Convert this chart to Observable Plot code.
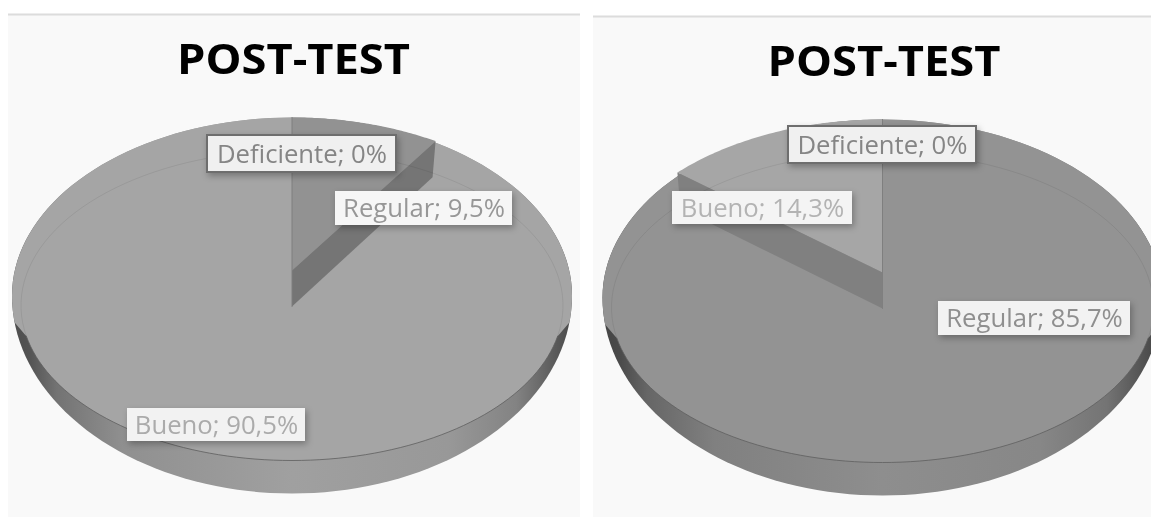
<!DOCTYPE html>
<html>
<head>
<meta charset="utf-8">
<script src="https://cdn.jsdelivr.net/npm/d3@7"></script>
<script src="https://cdn.jsdelivr.net/npm/@observablehq/plot@0.6"></script>
<style>
  html, body { margin: 0; padding: 0; background: #fff; }
  svg { display: block; }
  .box rect { filter: drop-shadow(2px 3px 3px rgba(0,0,0,.28)); }
  .all { filter: blur(.45px); }
</style>
</head>
<body>
<div id="chart"></div>
<script>
const categories = ["Deficiente", "Regular", "Bueno"];
const leftValues = [0, 9.5, 90.5];
const rightValues = [0, 85.7, 14.3];
const chartTitle = "POST-TEST";

// Layout of each panel (pixels of the shared x/y scales)
const panels = [
  { values: leftValues, x0: 8, x1: 580, line: 14, cx: 291.5, dy: 0, rim: "rimL",
    colors: { Regular: "#929292", Bueno: "#a5a5a5" }, wall: "#757575",
    boxes: {
      Deficiente: { x1: 207, x2: 396, y1: 135, y2: 172, border: "#6e6e6e", fill: "#f0f0f0", text: "#858585" },
      Regular: { x1: 335, x2: 512, y1: 191, y2: 225, border: "none", fill: "#f6f6f6", text: "#979797" },
      Bueno: { x1: 127, x2: 305, y1: 408, y2: 441, border: "none", fill: "#f2f2f2", text: "#ababab" }
    } },
  { values: rightValues, x0: 593, x1: 1151, line: 16, cx: 882, dy: 2, rim: "rimR",
    colors: { Regular: "#939393", Bueno: "#a6a6a6" }, wall: "#808080",
    boxes: {
      Deficiente: { x1: 788, x2: 976, y1: 126, y2: 163, border: "#6e6e6e", fill: "#f0f0f0", text: "#858585" },
      Regular: { x1: 938, x2: 1130, y1: 301, y2: 335, border: "none", fill: "#f2f2f2", text: "#8f8f8f" },
      Bueno: { x1: 672, x2: 852, y1: 191, y2: 224, border: "none", fill: "#f4f4f4", text: "#b3b3b3" }
    } }
];

const RX = 280, TOP = 117, WIDE = 295, BOTTOM = 493;
const INNER = { rx: 271, cy: 305, ry: 155 };
const APEX = 270, WALL = 36;
const PERSP = 0.14, KX = 285, KY = 174.5;
const TITLE_WIDTH = 233;

const project = (p, a) => {
  const s = Math.sin(a), c = Math.cos(a), w = 1 + PERSP * c;
  return { x: p.cx + KX * s / w, y: APEX + p.dy - KY * c / w };
};
const arc = (cx, cy, rx, ry, a0, a1, n = 80) =>
  d3.range(n + 1).map(i => {
    const a = a0 + (a1 - a0) * i / n;
    return { x: cx + rx * Math.sin(a), y: cy - ry * Math.cos(a) };
  });
const poly = (pts, o) => Plot.line(pts, { x: "x", y: "y", curve: "linear-closed", ...o });
const open = (pts, o) => Plot.line(pts, { x: "x", y: "y", ...o });

const PI = Math.PI;
const marks = [];

marks.push(() => {
  const d = document.createElementNS("http://www.w3.org/2000/svg", "defs");
  const stops = (l) => [[0,.48],[.03,.52],[.08,.72],[.2,.9],[.5,1],[.78,.95],[.9,.82],[.97,.56],[1,.46]]
    .map(([o, k]) => { const v = Math.round(l * k); return `<stop offset="${o}" stop-color="rgb(${v},${v},${v})"/>`; }).join("");
  d.innerHTML = `<linearGradient id="rimL" x1="0" x2="1" y1="0" y2="0">${stops(160)}</linearGradient>` +
                `<linearGradient id="rimR" x1="0" x2="1" y1="0" y2="0">${stops(142)}</linearGradient>`;
  return d;
});

for (const p of panels) {
  const dy = p.dy, cx = p.cx;
  // panel background and top line
  marks.push(Plot.rect([p], { x1: "x0", x2: "x1", y1: "line", y2: () => 517, fill: "#f9f9f9" }));
  marks.push(Plot.ruleY([p.line], { x1: p.x0, x2: p.x1, stroke: "#dcdcdc", strokeWidth: 2 }));

  // slices from the shares
  let cum = 0;
  const slices = categories.map((name, i) => {
    const v = p.values[i];
    const s = { name, value: v, a0: cum / 100 * 2 * PI, a1: (cum + v) / 100 * 2 * PI };
    cum += v;
    return s;
  });
  const live = slices.filter(s => s.value > 0);
  const big = d3.greatest(live, s => s.value), small = d3.least(live, s => s.value);

  // silhouette with side wall
  const sil = [
    ...arc(cx, WIDE + dy, RX, WIDE - TOP, -PI / 2, PI / 2),
    ...arc(cx, WIDE + dy, RX, BOTTOM - WIDE, PI / 2, 3 * PI / 2)
  ];
  marks.push(poly(sil, { fill: `url(#${p.rim})` }));

  // top surface, coloured by the largest slice; it follows the outline down to where the side wall starts
  const SIDE = 0.137, JOIN = 1.77;
  const surf = [
    ...arc(cx, WIDE + dy, RX, BOTTOM - WIDE, -PI / 2 - SIDE, -PI / 2, 8),
    ...arc(cx, WIDE + dy, RX, WIDE - TOP, -PI / 2, PI / 2),
    ...arc(cx, WIDE + dy, RX, BOTTOM - WIDE, PI / 2, PI / 2 + SIDE, 8),
    ...arc(cx, INNER.cy + dy, INNER.rx, INNER.ry, JOIN, 2 * PI - JOIN)
  ];
  marks.push(poly(surf, { fill: p.colors[big.name] }));

  // smaller slice with its wall
  const edges = d3.range(61).map(i => project(p, small.a0 + (small.a1 - small.a0) * i / 60));
  const apex = { x: cx, y: APEX + dy };
  marks.push(poly([apex, ...edges], { fill: p.colors[small.name] }));
  const outer = small.a1 >= 2 * PI - 1e-6 ? edges[0] : edges[edges.length - 1];
  marks.push(poly([outer, { x: outer.x - 3 * Math.sign(outer.x - cx) , y: outer.y + WALL }, { x: cx, y: apex.y + WALL }, apex], { fill: p.wall }));

  // zero slice border at twelve o'clock
  marks.push(open([{ x: cx, y: TOP + dy }, { x: cx, y: apex.y + WALL }], { stroke: "#7f7f7f", strokeWidth: 1 }));

  // bevel lines
  marks.push(open(arc(cx, INNER.cy + dy, INNER.rx, INNER.ry, -JOIN, JOIN), { stroke: "#000", strokeOpacity: 0.07, strokeWidth: 1 }));
  marks.push(open(arc(cx, INNER.cy + dy, INNER.rx, INNER.ry, JOIN, 2 * PI - JOIN), { stroke: "#5f5f5f", strokeWidth: 1, strokeOpacity: 0.8 }));

  // title, stretched to the wide proportions of the picture
  marks.push(Plot.text([chartTitle], {
    x: () => cx + 1.5, y: () => 60 + dy, text: d => d, fontFamily: "Open Sans", fontWeight: 700, fontSize: 42, fill: "#000",
    render(index, scales, values, dimensions, context, next) {
      const g = next(index, scales, values, dimensions, context);
      g.querySelectorAll("text").forEach(t => {
        t.setAttribute("textLength", TITLE_WIDTH);
        t.setAttribute("lengthAdjust", "spacingAndGlyphs");
      });
      return g;
    }
  }));

  // data labels
  const labels = categories.map((name, i) => ({
    ...p.boxes[name],
    label: `${name}; ${String(p.values[i]).replace(".", ",")}%`
  }));
  marks.push(Plot.rect(labels, {
    x1: "x1", x2: "x2", y1: "y1", y2: "y2", fill: "fill", stroke: "border", strokeWidth: 2, className: "box"
  }));
  marks.push(Plot.text(labels, {
    x: d => (d.x1 + d.x2) / 2, y: d => (d.y1 + d.y2) / 2 + 0.5, text: "label", fill: "text",
    fontFamily: "Open Sans", fontSize: 25.7
  }));
}

const chart = Plot.plot({
  width: 1151, height: 517, margin: 0, className: "all",
  style: { background: "#fff" },
  x: { domain: [0, 1151], range: [0, 1151], axis: null },
  y: { domain: [0, 517], range: [0, 517], axis: null },
  color: { type: "identity" },
  marks
});
document.getElementById("chart").append(chart);
</script>
</body>
</html>
